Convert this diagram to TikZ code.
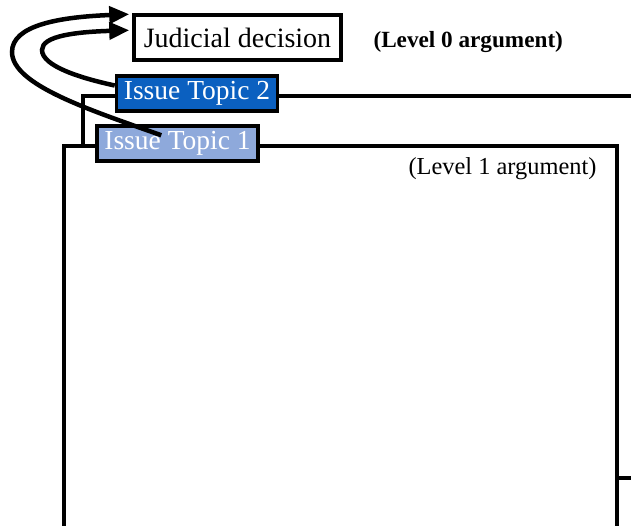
\documentclass[tikz,border=0pt]{standalone}
\usepackage{fontspec}
\setmainfont{Liberation Serif}
\usetikzlibrary{calc,arrows.meta}
\definecolor{topicdark}{HTML}{0B60C0}
\definecolor{topiclight}{HTML}{8EA9DB}
\tikzset{
  frame/.style={draw=black, line width=3.5pt, fill=white},
  topicbox/.style={draw=black, line width=3.5pt, inner sep=0pt,
    minimum width=161pt, minimum height=35pt, text=white, font=\fontsize{27.5}{30}\selectfont},
  decisionbox/.style={draw=black, line width=3.5pt, fill=white, inner sep=0pt,
    minimum width=207pt, minimum height=45pt, font=\fontsize{28}{30}\selectfont},
  support/.style={line width=4.5pt, -{Triangle[length=20pt,width=17pt]}},
}
\begin{document}
\begin{tikzpicture}[x=1pt,y=-1pt]
\useasboundingbox (0,0) rectangle (631,526);
\clip (0,0) rectangle (631,526);
% level 2 frame (behind) and level 1 frame (front)
\draw[frame] (83,96) rectangle (660,478);
\draw[frame] (64,146) rectangle (617,560);
% issue topics
\node[topicbox, fill=topicdark] (t2) at (197,93.5) {Issue Topic 2};
\node[topicbox, fill=topiclight] (t1) at (177.5,143.5) {Issue Topic 1};
% top-level decision
\node[decisionbox] (jd) at (237.5,37.5) {Judicial decision};
\node[anchor=west, font=\bfseries\fontsize{23.2}{25}\selectfont] (l0) at (370,42) {(Level 0 argument)};
\node[anchor=east, font=\fontsize{24.4}{26}\selectfont] (l1) at (600,169) {(Level 1 argument)};
% support links from the issue topics to the decision
\draw[support] ($(t1.north west)+(66,11)$) .. controls (90,110) and (12,85) .. (12,52)
  .. controls (12,25) and (60,17) .. ($(jd.north west)+(-3,1)$);
\draw[support] ($(t2.west)+(0,-8)$) .. controls (80,78) and (42,66) .. (42,50)
  .. controls (42,36) and (75,32) .. ($(jd.north west)+(-3,17)$);
\end{tikzpicture}
\end{document}
